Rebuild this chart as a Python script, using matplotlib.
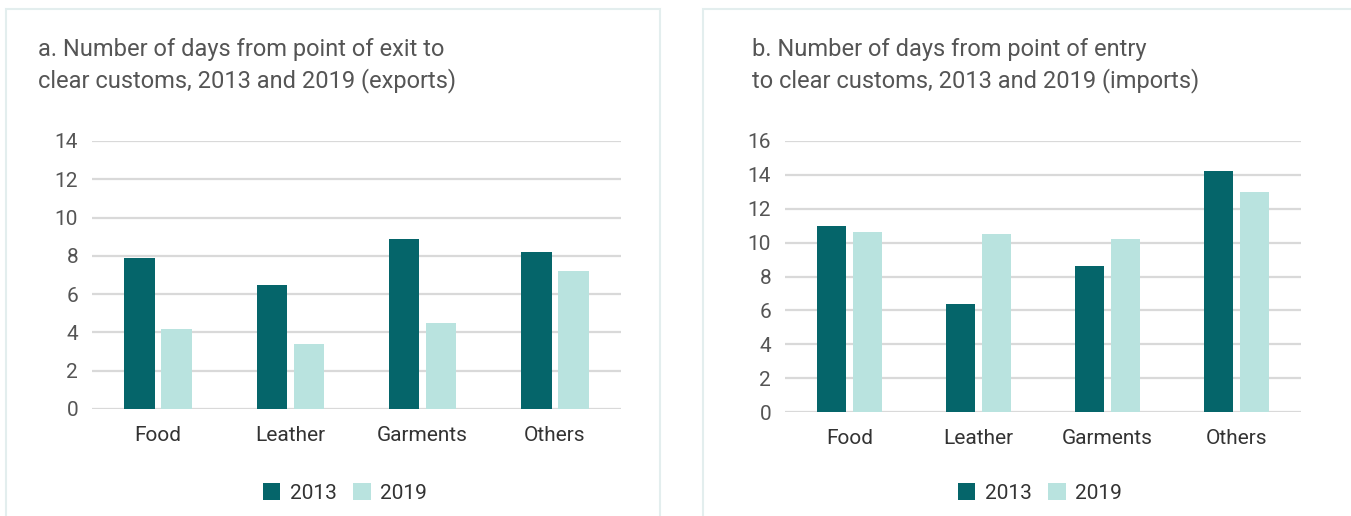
import matplotlib
matplotlib.use('Agg')
import matplotlib.pyplot as plt
import numpy as np
from matplotlib.patches import Rectangle

# data
categories = ['Food', 'Leather', 'Garments', 'Others']
exports_2013 = [7.9, 6.5, 8.9, 8.2]
exports_2019 = [4.2, 3.4, 4.5, 7.2]
imports_2013 = [11.0, 6.4, 8.6, 14.2]
imports_2019 = [10.6, 10.5, 10.2, 13.0]
years = ['2013', '2019']

title_a = 'a. Number of days from point of exit to\nclear customs, 2013 and 2019 (exports)'
title_b = 'b. Number of days from point of entry\nto clear customs, 2013 and 2019 (imports)'

dark = '#05656a'
light = '#b9e3df'
grid_col = '#d9d9d9'
text_col = '#555555'

W, H = 1351, 516
plt.rcParams['font.family'] = ['Roboto', 'DejaVu Sans']
fig = plt.figure(figsize=(W / 100, H / 100), dpi=100)


def px_axes(x0, x1, y_top, y_bot):
    return fig.add_axes([x0 / W, (H - y_bot) / H, (x1 - x0) / W, (y_bot - y_top) / H])


def draw_panel(ax, v2013, v2019, ymax):
    x = np.arange(len(categories))
    w = 0.23
    ax.bar(x - 0.14, v2013, w, color=dark, label=years[0], zorder=3)
    ax.bar(x + 0.14, v2019, w, color=light, label=years[1], zorder=3)
    ax.set_xlim(-0.5, len(categories) - 0.5)
    ax.set_ylim(0, ymax)
    ax.set_yticks(np.arange(0, ymax + 1, 2))
    ax.set_xticks(x)
    ax.set_xticklabels(categories)
    ax.grid(axis='y', color=grid_col, linewidth=1.6, zorder=0)
    ax.set_axisbelow(True)
    for s in ax.spines.values():
        s.set_visible(False)
    ax.tick_params(axis='y', length=0, pad=10, labelsize=15, labelcolor=text_col)
    ax.tick_params(axis='x', length=0, pad=12, labelsize=15, labelcolor='#333333')
    ax.set_facecolor('none')


# panel frames
fig.add_artist(Rectangle((6 / W, -0.05), 654 / W, (H - 9) / H + 0.05,
                         transform=fig.transFigure, fill=False,
                         edgecolor='#e3eeee', linewidth=1.5))
fig.add_artist(Rectangle((703 / W, -0.05), 660 / W, (H - 9) / H + 0.05,
                         transform=fig.transFigure, fill=False,
                         edgecolor='#e3eeee', linewidth=1.5))

ax1 = px_axes(92, 621, 141, 409)
draw_panel(ax1, exports_2013, exports_2019, 14)
ax2 = px_axes(785, 1301, 141, 412)
draw_panel(ax2, imports_2013, imports_2019, 16)

fig.text(38 / W, 1 - 38 / H, title_a, ha='left', va='top', fontsize=17,
         color=text_col, linespacing=1.35)
fig.text(752 / W, 1 - 38 / H, title_b, ha='left', va='top', fontsize=17,
         color=text_col, linespacing=1.35)

for ax, cx in [(ax1, 345), (ax2, 1040)]:
    h, l = ax.get_legend_handles_labels()
    fig.legend(h, l, loc='center', bbox_to_anchor=(cx / W, 1 - 493 / H),
               ncol=2, frameon=False, fontsize=15, handlelength=0.85,
               handleheight=0.85, handletextpad=0.45, columnspacing=0.8,
               labelcolor='#333333')

fig.savefig('out.png', dpi=100)
